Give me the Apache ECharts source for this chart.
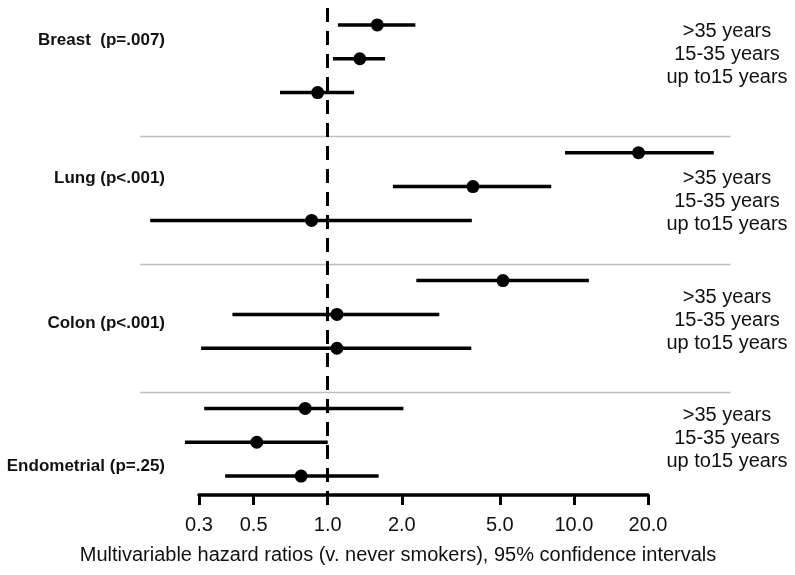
<!DOCTYPE html>
<html>
<head>
<meta charset="utf-8">
<script src="https://cdn.jsdelivr.net/npm/echarts@6/dist/echarts.min.js"></script>
<style>
html,body{margin:0;padding:0;background:#fff;}
#main{width:795px;height:575px;}
</style>
</head>
<body>
<div id="main"></div>
<script>
// ---- data ----
var groups = ['Breast  (p=.007)', 'Lung (p<.001)', 'Colon (p<.001)', 'Endometrial (p=.25)'];
var rowLabels = ['>35 years', '15-35 years', 'up to15 years'];
// hazard ratios per row (3 rows per group, top to bottom)
var hazardRatio = [1.59, 1.35, 0.91, 18.3, 3.89, 0.86, 5.15, 1.09, 1.09, 0.81, 0.515, 0.78];
var lowerCI     = [1.10, 1.05, 0.64, 9.2, 1.84, 0.19, 2.29, 0.41, 0.306, 0.315, 0.263, 0.383];
var upperCI     = [2.27, 1.71, 1.28, 37.0, 8.09, 3.85, 11.5, 2.84, 3.83, 2.03, 1.00, 1.61];
var tickValues  = [0.3, 0.5, 1.0, 2.0, 5.0, 10.0, 20.0];
var refValue = 1.0;
var sepRange = [0.173, 43.2];

// ---- layout helpers ----
var GROUP_STEP = 3.78;
function rowPos(i) { return Math.floor(i / 3) * GROUP_STEP + (i % 3); }
var L = Math.log10;

var barData = hazardRatio.map(function (v, i) {
  return [L(lowerCI[i]), L(upperCI[i]), L(v), rowPos(i)];
});
var sepData = [];
for (var g = 1; g < groups.length; g++) sepData.push([L(sepRange[0]), L(sepRange[1]), g * GROUP_STEP - 0.5]);

var chart = echarts.init(document.getElementById('main'), null, {renderer: 'canvas'});
var FONT = 'Liberation Sans, Arial, sans-serif';

var leftY = [40.7, 178.3, 323.3, 466.7];
var rightY = [54, 201, 320, 438.3];
var graphics = [];
groups.forEach(function (name, gi) {
  graphics.push({
    type: 'text', x: 165, y: leftY[gi],
    style: {text: name, font: 'bold 17px ' + FONT, fill: '#111', textAlign: 'right', textVerticalAlign: 'middle'}
  });
  graphics.push({
    type: 'text', x: 727, y: rightY[gi],
    style: {text: rowLabels.join('\n'), font: '20px ' + FONT, fill: '#111',
            textAlign: 'center', textVerticalAlign: 'middle', lineHeight: 23}
  });
});
graphics.push({
  type: 'text', x: 398, y: 555,
  style: {text: 'Multivariable hazard ratios (v. never smokers), 95% confidence intervals',
          font: '20px ' + FONT, fill: '#111', textAlign: 'center', textVerticalAlign: 'middle'}
});

var option = {
  animation: false,
  backgroundColor: '#fff',
  grid: {left: 199, right: 147, top: 8, bottom: 80},
  xAxis: {
    type: 'value',
    position: 'bottom',
    min: L(tickValues[0]),
    max: L(tickValues[tickValues.length - 1]),
    axisLine: {show: true, onZero: false, lineStyle: {color: '#000', width: 3.5}},
    axisTick: {show: true, length: 10, lineStyle: {color: '#000', width: 3},
               customValues: tickValues.map(L)},
    axisLabel: {show: true, customValues: tickValues.map(L), margin: 20,
                fontSize: 20, fontFamily: FONT, color: '#111',
                formatter: function (v) { return Math.pow(10, v).toFixed(1); }},
    splitLine: {show: false}
  },
  yAxis: {
    type: 'value', inverse: true, min: -0.5, max: 13.9, show: false
  },
  series: [
    {
      type: 'custom',
      clip: false,
      silent: true,
      data: sepData,
      renderItem: function (params, api) {
        var a = api.coord([api.value(0), api.value(2)]);
        var b = api.coord([api.value(1), api.value(2)]);
        return {type: 'line', shape: {x1: a[0], y1: Math.round(a[1]) + 0.5, x2: b[0], y2: Math.round(b[1]) + 0.5},
                style: {stroke: '#bdbdbd', lineWidth: 1.5}};
      },
      z: 1
    },
    {
      type: 'custom',
      clip: false,
      silent: true,
      data: barData,
      encode: {x: [0, 1, 2], y: 3},
      renderItem: function (params, api) {
        var y = api.value(3);
        var a = api.coord([api.value(0), y]);
        var b = api.coord([api.value(1), y]);
        var c = api.coord([api.value(2), y]);
        return {
          type: 'group',
          children: [
            {type: 'line', shape: {x1: a[0], y1: a[1], x2: b[0], y2: b[1]},
             style: {stroke: '#000', lineWidth: 3.5}},
            {type: 'circle', shape: {cx: c[0], cy: c[1], r: 6.5}, style: {fill: '#000'}}
          ]
        };
      },
      markLine: {
        silent: true, symbol: ['none', 'none'], label: {show: false},
        lineStyle: {color: '#000', width: 3, type: [14, 9]},
        data: [{xAxis: L(refValue)}]
      },
      z: 3
    }
  ],
  graphic: graphics
};
chart.setOption(option);
</script>
</body>
</html>
